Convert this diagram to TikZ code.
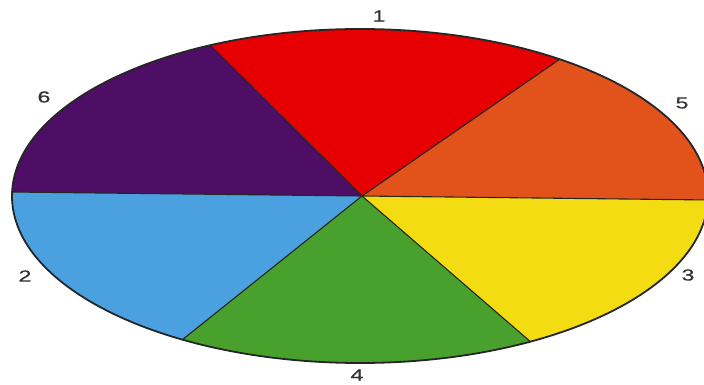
\documentclass[tikz,border=0pt]{standalone}
\usepackage{fontspec}
\setmainfont{Liberation Sans}
\newfontfamily\widefont[FakeStretch=1.45,FakeBold=0.6]{Liberation Sans}
\usetikzlibrary{calc}
\definecolor{cred}{HTML}{E60002}
\definecolor{corange}{HTML}{E2531C}
\definecolor{cyellow}{HTML}{F3DD12}
\definecolor{cgreen}{HTML}{47A12C}
\definecolor{cblue}{HTML}{4BA0E0}
\definecolor{cpurple}{HTML}{4E0E66}
\begin{document}
\begin{tikzpicture}[x=1pt,y=-1pt,
  lbl/.style={font=\widefont\fontsize{16}{16}\selectfont, text=black!80, inner sep=0pt},
  spoke/.style={draw=black!85, line width=1.1pt},
  rim/.style={draw=black!85, line width=1.8pt}]
\useasboundingbox (0,0) rectangle (704,385);
\coordinate (C) at (362,196);
\coordinate (pL) at (12,192);
\coordinate (pTL) at (210,45);
\coordinate (pTR) at (560,59);
\coordinate (pR) at (710,200);
\coordinate (pBR) at (532,343);
\coordinate (pBL) at (182,340);
\begin{scope}
\clip (360,196) ellipse [x radius=348, y radius=167];
\fill[cred] (C) -- ($(C)!3!(pTL)$) -- ($(C)!3!(pTR)$) -- cycle;
\fill[corange] (C) -- ($(C)!3!(pTR)$) -- ($(C)!3!(pR)$) -- cycle;
\fill[cyellow] (C) -- ($(C)!3!(pR)$) -- ($(C)!3!(pBR)$) -- cycle;
\fill[cgreen] (C) -- ($(C)!3!(pBR)$) -- ($(C)!3!(pBL)$) -- cycle;
\fill[cblue] (C) -- ($(C)!3!(pBL)$) -- ($(C)!3!(pL)$) -- cycle;
\fill[cpurple] (C) -- ($(C)!3!(pL)$) -- ($(C)!3!(pTL)$) -- cycle;
\foreach \p in {pL,pTL,pTR,pR,pBR,pBL}
  \draw[spoke] (C) -- ($(C)!1.3!(\p)$);
\end{scope}
\draw[rim] (360,196) ellipse [x radius=348, y radius=167];
\node[lbl] (l1) at (379,16) {1};
\node[lbl] (l5) at (682,103) {5};
\node[lbl] (l6) at (44,97) {6};
\node[lbl] (l2) at (25,276) {2};
\node[lbl] (l3) at (688,275) {3};
\node[lbl] (l4) at (357,375) {4};
\end{tikzpicture}
\end{document}
